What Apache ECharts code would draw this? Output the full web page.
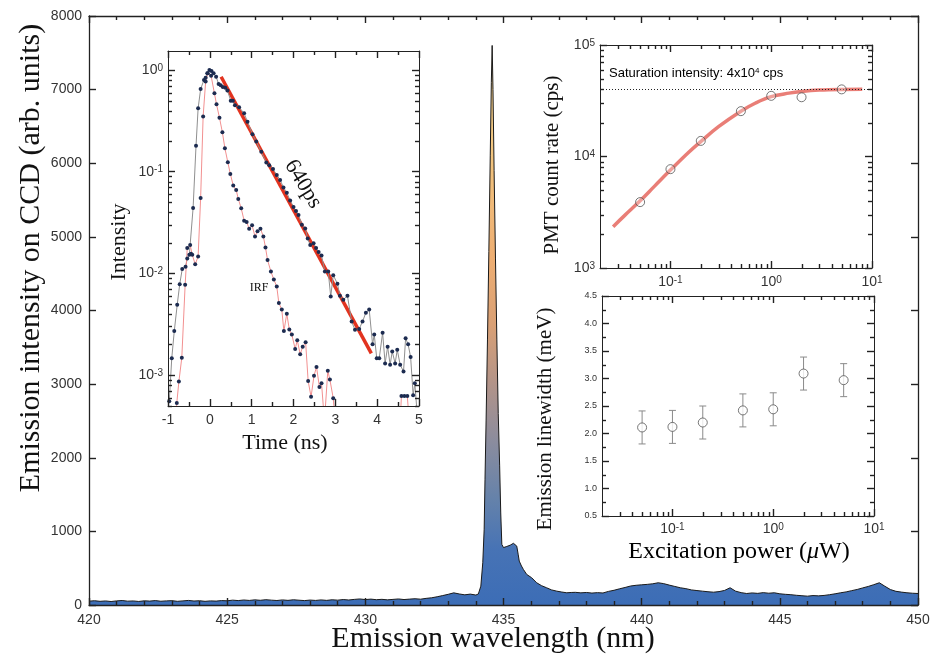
<!DOCTYPE html>
<html><head><meta charset="utf-8">
<script src="https://cdn.jsdelivr.net/npm/echarts@6/dist/echarts.min.js"></script>
<style>html,body{margin:0;padding:0;background:#fff}#chart{width:933px;height:662px}</style>
</head><body><div id="chart"></div>
<script>
// ================= DATA =================
// Main spectrum (nm, arb. units)
const wavelengthNm = [
  420.0,420.2,420.4,420.6,420.8,421.0,421.2,421.4,421.6,421.8,
  422.0,422.2,422.4,422.6,422.8,423.0,423.2,423.4,423.6,423.8,
  424.0,424.2,424.4,424.6,424.8,425.0,425.2,425.4,425.6,425.8,
  426.0,426.2,426.4,426.6,426.8,427.0,427.2,427.4,427.6,427.8,
  428.0,428.2,428.4,428.6,428.8,429.0,429.2,429.4,429.6,429.8,
  430.0,430.2,430.4,430.6,430.8,431.0,431.2,431.4,431.6,431.8,
  432.0,432.2,432.4,432.6,432.8,433.0,433.2,433.4,433.6,433.8,
  434.00,434.09,434.18,434.25,434.30,434.33,434.37,434.42,434.47,434.52,
  434.56,434.59,434.62,434.66,434.71,434.76,434.81,434.86,434.90,434.94,
  435.00,435.06,435.12,435.18,435.24,435.30,435.36,435.42,435.48,435.53,
  435.57,435.65,435.72,435.84,436.02,436.20,436.38,436.56,436.74,436.93,
  437.11,437.29,437.45,
  437.6,437.8,438.0,438.2,438.4,438.6,438.8,439.0,439.2,439.4,
  439.6,439.8,440.0,440.2,440.4,440.6,440.8,441.0,441.2,441.4,
  441.6,441.8,442.0,442.2,442.4,442.6,442.8,443.0,443.2,443.4,
  443.6,443.8,444.0,444.2,444.4,444.6,444.8,445.0,445.2,445.4,
  445.6,445.8,446.0,446.2,446.4,446.6,446.8,447.0,447.2,447.4,
  447.6,447.8,448.0,448.2,448.4,448.6,448.8,449.0,449.2,449.4,
  449.6,449.8,450.0
];
const ccdIntensity = [
  52,58,50,55,47,56,61,52,55,48,
  57,53,60,51,56,59,50,56,62,54,
  58,50,56,53,60,57,66,60,68,62,
  70,64,72,66,61,69,63,71,65,60,
  67,62,69,63,71,66,74,68,76,82,
  74,80,72,77,70,76,82,74,80,85,
  79,90,98,112,128,145,165,150,138,148,
  135,150,256,574,1030,1700,2500,3600,4800,6100,
  7100,7600,7000,5900,4700,3600,2600,1900,1250,823,
  780,778,795,800,812,825,838,846,800,690,
  596,530,483,415,370,302,262,234,205,188,
  176,166,170,
  172,165,170,162,168,163,185,200,220,238,
  258,268,274,280,288,302,290,270,252,234,
  222,205,196,188,180,174,182,198,234,188,
  168,156,164,158,168,160,166,152,145,140,
  132,126,120,128,124,130,140,152,166,178,
  195,211,232,252,276,302,255,210,186,175,
  166,160,156
];

// Inset 1: time-resolved PL (ns, normalised)
const decayTimeNs = [
  -0.97,-0.91,-0.85,-0.78,-0.72,-0.66,-0.58,-0.54,-0.49,-0.45,
  -0.40,-0.33,-0.28,-0.22,-0.14,-0.10,-0.06,-0.01,0.04,0.09,
  0.15,0.21,0.26,0.31,0.37,0.42,0.50,0.55,0.60,0.70,
  0.82,0.90,1.02,1.11,1.23,1.35,1.42,1.51,1.60,1.68,
  1.76,1.84,1.92,2.00,2.06,2.12,2.20,2.28,2.34,2.40,
  2.48,2.54,2.60,2.67,2.75,2.83,2.89,2.95,3.05,3.11,
  3.19,3.29,3.39,3.47,3.57,3.65,3.73,3.81,3.89,3.93,
  3.99,4.05,4.13,4.19,4.25,4.31,4.36,4.43,4.48,4.55,
  4.63,4.68,4.74,4.80,4.86,4.90,4.96
];
const decayIntensity = [
  0.00055,0.00146,0.0027,0.0049,0.0078,0.011,0.0116,0.014,0.0152,0.0156,
  0.044,0.18,0.42,0.65,0.80,0.84,0.93,1.0,0.98,0.93,
  0.86,0.73,0.71,0.68,0.67,0.63,0.50,0.50,0.45,0.43,
  0.375,0.31,0.233,0.198,0.157,0.123,0.116,0.106,0.093,0.083,
  0.070,0.062,0.052,0.045,0.041,0.0375,0.030,0.0276,0.022,0.019,
  0.0198,0.0177,0.0162,0.015,0.0104,0.0104,0.0059,0.0096,0.0079,0.0060,
  0.0055,0.0060,0.00335,0.00278,0.00284,0.00335,0.0041,0.0044,0.0020,0.0025,
  0.00146,0.00146,0.0026,0.0013,0.0019,0.00126,0.0017,0.0013,0.00177,0.00126,
  0.00108,0.0023,0.0020,0.0015,0.00063,0.00083,0.0004
];
const irfTimeNs = [
  -0.85,-0.79,-0.74,-0.67,-0.59,-0.54,-0.47,-0.42,-0.35,-0.28,
  -0.22,-0.16,-0.10,-0.05,0.03,0.11,0.16,0.23,0.30,0.36,
  0.43,0.49,0.56,0.63,0.68,0.75,0.82,0.88,0.94,1.01,
  1.08,1.14,1.21,1.28,1.33,1.38,1.46,1.53,1.60,1.65,
  1.72,1.77,1.84,1.90,1.96,2.04,2.09,2.16,2.22,2.29,
  2.35,2.42,2.49,2.55,2.62,2.67,2.74,2.82,2.87,2.95,
  3.01,4.52,4.58,4.65,4.72,4.78
];
const irfIntensity = [
  0.0002,0.00053,0.00086,0.00148,0.0077,0.0177,0.019,0.0152,0.0123,0.0146,
  0.055,0.35,0.77,0.93,0.88,0.59,0.46,0.34,0.244,0.17,
  0.124,0.095,0.073,0.066,0.054,0.0436,0.033,0.032,0.0275,0.0297,
  0.023,0.026,0.0275,0.023,0.018,0.0135,0.0104,0.0087,0.0074,0.0051,
  0.0044,0.0027,0.0040,0.0028,0.0025,0.0018,0.0022,0.0016,0.0019,0.0021,
  0.00087,0.00061,0.00098,0.0012,0.00076,0.00083,0.00035,0.0011,0.0009,0.00059,
  0.0003,0.0002,0.00062,0.00062,0.00062,0.0003
];
const fitTimeNs = [0.27, 3.86];
const fitIntensity = [0.86, 0.00163];

// Inset 2: PMT count rate vs excitation power
const pmtPowerUW = [0.05, 0.1, 0.2, 0.5, 1, 2, 5];
const pmtCountRate = [3900, 7700, 13800, 25500, 35000, 34000, 40000];
const satFitPowerUW = [0.027, 0.035, 0.05, 0.07, 0.1, 0.15, 0.2, 0.3, 0.5, 0.7, 1, 1.5, 2, 3, 5, 8];
const satFitCountRate = [2350, 2950, 4000, 5450, 7550, 10800, 13600, 18500, 25500, 30200, 34400, 37000, 38300, 39400, 39900, 40000];
const saturationCps = 40000;

// Inset 3: emission linewidth vs excitation power
const linewidthPowerUW = [0.05, 0.1, 0.2, 0.5, 1, 2, 5];
const linewidthMeV = [2.11, 2.12, 2.20, 2.42, 2.44, 3.09, 2.97];
const linewidthErrMeV = [0.3, 0.3, 0.3, 0.3, 0.3, 0.3, 0.3];

// ================= STYLE / HELPERS =================
const AX = '#222', INK = '#333';
const SANS = '"Liberation Sans", Arial, Helvetica, sans-serif';
const SERIF = '"Liberation Serif", "Times New Roman", Times, serif';
const MAJ = 7, MIN = 4, TW = 1.4;

function zip(a, b) { return a.map((v, i) => [v, b[i]]); }
function supLabel(v) {
  const l = Math.log10(v), e = Math.round(l);
  if (Math.abs(l - e) > 1e-6) return '';
  return '{b|10}{s|' + e + '}';
}
function richSup(size) {
  return {
    b: { fontSize: size, fontFamily: SANS, color: INK },
    s: { fontSize: Math.round(size * 0.68), fontFamily: SANS, color: INK, verticalAlign: 'top' }
  };
}
function logMinors(e0, e1, lo, hi) {
  const r = [];
  for (let e = e0; e <= e1; e++) for (let m = 2; m <= 9; m++) {
    const v = +(m * Math.pow(10, e)).toPrecision(3);
    if (v > lo * 1.001 && v < hi * 0.999) r.push(v);
  }
  return r;
}
const xAxes = [], yAxes = [];
function axisBase(gi, pos, type, min, max) {
  const a = { type, gridIndex: gi, position: pos, min, max, z: 10,
    axisLine: { show: true, onZero: false, lineStyle: { color: AX, width: 1 } },
    axisTick: { show: false }, axisLabel: { show: false }, splitLine: { show: false },
    minorTick: { show: false }, minorSplitLine: { show: false } };
  if (type === 'log') a.logBase = 10;
  return a;
}
function linearSet(list, gi, sides, min, max, interval, minorSplit, label, lw) {
  let first;
  sides.forEach((pos, i) => {
    const a = axisBase(gi, pos, 'value', min, max);
    a.interval = interval;
    a.axisLine.lineStyle.width = lw || 1;
    a.axisTick = { show: true, inside: true, length: MAJ, lineStyle: { color: AX, width: TW } };
    if (minorSplit) a.minorTick = { show: true, splitNumber: minorSplit, length: MIN, lineStyle: { color: AX, width: TW } };
    if (i === 0 && label) a.axisLabel = Object.assign({ show: true, inside: false, hideOverlap: false }, label);
    list.push(a); if (i === 0) first = list.length - 1;
  });
  return first;
}
// log axes: box lines, major ticks and labels; minor (2..9) ticks drawn by tickSeries through the axis scale
function logSet(list, gi, sides, min, max, majors, label) {
  let first;
  sides.forEach((pos, i) => {
    const a = axisBase(gi, pos, 'log', min, max);
    a.axisTick = { show: true, inside: true, length: MAJ, customValues: majors, lineStyle: { color: AX, width: TW } };
    if (i === 0 && label) a.axisLabel = Object.assign({ show: true, inside: false, hideOverlap: false, customValues: majors, formatter: supLabel }, label);
    list.push(a); if (i === 0) first = list.length - 1;
  });
  return first;
}
function tickSeries(xIdx, yIdx, dim, minors, ref) {
  const data = minors.map(v => dim === 'y' ? [ref, v, MIN] : [v, ref, MIN]);
  return { type: 'custom', xAxisIndex: xIdx, yAxisIndex: yIdx, data, silent: true, clip: false, z: 20,
    encode: { x: 0, y: 1 },
    renderItem: function (params, api) {
      const cs = params.coordSys;
      const p = api.coord([api.value(0), api.value(1)]);
      const len = api.value(2);
      const st = { stroke: AX, lineWidth: TW };
      if (dim === 'y') {
        const y = Math.round(p[1]) + 0.5;
        return { type: 'group', children: [
          { type: 'line', shape: { x1: cs.x, y1: y, x2: cs.x + len, y2: y }, style: st },
          { type: 'line', shape: { x1: cs.x + cs.width - len, y1: y, x2: cs.x + cs.width, y2: y }, style: st } ] };
      }
      const x = Math.round(p[0]) + 0.5;
      return { type: 'group', children: [
        { type: 'line', shape: { x1: x, y1: cs.y + cs.height, x2: x, y2: cs.y + cs.height - len }, style: st },
        { type: 'line', shape: { x1: x, y1: cs.y, x2: x, y2: cs.y + len }, style: st } ] };
    } };
}
const plainNum = v => String(v);

// ---- grid 0: main spectrum
const mX = linearSet(xAxes, 0, ['bottom', 'top'], 420, 450, 5, 5,
  { fontSize: 14, fontFamily: SANS, color: INK, margin: 8, formatter: plainNum }, 1.3);
const mY = linearSet(yAxes, 0, ['left', 'right'], 0, 8000, 1000, 0,
  { fontSize: 14, fontFamily: SANS, color: INK, margin: 7, formatter: plainNum }, 1.3);
// ---- grid 1: decay
const dX = linearSet(xAxes, 1, ['bottom', 'top'], -1, 5, 1, 2,
  { fontSize: 14, fontFamily: SANS, color: INK, margin: 7, formatter: plainNum });
const dYmin = 0.000495, dYmax = 1.54;
const dYmajors = [0.001, 0.01, 0.1, 1];
const dY = logSet(yAxes, 1, ['left', 'right'], dYmin, dYmax, dYmajors, { color: INK, margin: 5, rich: richSup(14) });
// ---- grid 2: PMT count rate
const pXmin = 0.02, pXmax = 10;
const pXmajors = [0.1, 1, 10];
const pX = logSet(xAxes, 2, ['bottom', 'top'], pXmin, pXmax, pXmajors, { color: INK, margin: 7, rich: richSup(14) });
const pYmajors = [1000, 10000, 100000];
const pY = logSet(yAxes, 2, ['left', 'right'], 1000, 100000, pYmajors, { color: INK, margin: 5, rich: richSup(14) });
// ---- grid 3: linewidth
const lX = logSet(xAxes, 3, ['bottom', 'top'], pXmin, pXmax, pXmajors, { color: INK, margin: 6, rich: richSup(14) });
const lY = linearSet(yAxes, 3, ['left', 'right'], 0.5, 4.5, 0.5, 2,
  { fontSize: 9, fontFamily: SANS, color: INK, margin: 5, formatter: v => v.toFixed(1) });

const errData = linewidthPowerUW.map((p, i) => [p, linewidthMeV[i] - linewidthErrMeV[i], linewidthMeV[i] + linewidthErrMeV[i]]);

function gText(text, x, y, font, extra) {
  return Object.assign({ type: 'text', x, y, silent: true, z: 100,
    style: { text, font, fill: '#111', textAlign: 'center', textVerticalAlign: 'middle', align: 'center', verticalAlign: 'middle' } }, extra || {});
}

const option = {
  animation: false,
  backgroundColor: '#fff',
  grid: [
    { left: 89, top: 16, width: 829, height: 589, containLabel: false, outerBoundsMode: 'none' },
    { left: 168, top: 51, width: 251, height: 355, containLabel: false, outerBoundsMode: 'none' },
    { left: 600, top: 45, width: 272, height: 223, containLabel: false, outerBoundsMode: 'none' },
    { left: 602, top: 296, width: 272, height: 220, containLabel: false, outerBoundsMode: 'none' }
  ],
  xAxis: xAxes,
  yAxis: yAxes,
  series: [
    { type: 'line', xAxisIndex: mX, yAxisIndex: mY, data: zip(wavelengthNm, ccdIntensity),
      showSymbol: false, symbol: 'none', sampling: 'none', silent: true, z: 2,
      lineStyle: { color: '#1a1a1a', width: 1 },
      areaStyle: { opacity: 1, color: new echarts.graphic.LinearGradient(0, 0, 0, 1, [
        { offset: 0, color: '#f4d490' },
        { offset: 0.2, color: '#f2c47e' },
        { offset: 0.38, color: '#eeae72' },
        { offset: 0.5, color: '#d9a075' },
        { offset: 0.6, color: '#b49488' },
        { offset: 0.71, color: '#8a8c9e' },
        { offset: 0.81, color: '#6582aa' },
        { offset: 0.9, color: '#4773b5' },
        { offset: 1, color: '#3c6db6' }
      ]) } },
    { type: 'line', xAxisIndex: dX, yAxisIndex: dY, data: zip(fitTimeNs, fitIntensity),
      showSymbol: false, symbol: 'none', silent: true, z: 3,
      lineStyle: { color: '#e2331f', width: 3.5 } },
    { type: 'line', xAxisIndex: dX, yAxisIndex: dY, data: zip(decayTimeNs, decayIntensity),
      symbol: 'circle', symbolSize: 4, showSymbol: true, silent: true, z: 4,
      lineStyle: { color: '#8f8f8f', width: 1 }, itemStyle: { color: '#1c2b50' } },
    { type: 'line', xAxisIndex: dX, yAxisIndex: dY, data: zip(irfTimeNs, irfIntensity),
      symbol: 'circle', symbolSize: 4, showSymbol: true, silent: true, z: 4,
      lineStyle: { color: '#f29090', width: 1 }, itemStyle: { color: '#1c2b50' } },
    tickSeries(dX, dY, 'y', logMinors(-4, 0, dYmin, dYmax), 0),
    { type: 'line', xAxisIndex: pX, yAxisIndex: pY, data: zip(satFitPowerUW, satFitCountRate),
      showSymbol: false, symbol: 'none', smooth: 0.4, silent: true, z: 3,
      lineStyle: { color: '#e5675f', width: 3.5, opacity: 0.85 },
      markLine: { silent: true, symbol: ['none', 'none'], label: { show: false },
        lineStyle: { color: '#222', type: [1, 2], width: 1 }, data: [{ yAxis: saturationCps }] } },
    { type: 'scatter', xAxisIndex: pX, yAxisIndex: pY, data: zip(pmtPowerUW, pmtCountRate),
      symbol: 'circle', symbolSize: 9, silent: true, z: 5,
      itemStyle: { color: 'rgba(255,255,255,0.35)', borderColor: '#555', borderWidth: 1 } },
    tickSeries(pX, pY, 'x', logMinors(-2, 0, pXmin, pXmax), 10000),
    tickSeries(pX, pY, 'y', logMinors(3, 4, 1000, 100000), 1),
    { type: 'custom', xAxisIndex: lX, yAxisIndex: lY, data: errData, silent: true, z: 3,
      encode: { x: 0, y: [1, 2] },
      renderItem: function (params, api) {
        const x = api.value(0), lo = api.value(1), hi = api.value(2);
        const a = api.coord([x, lo]), b = api.coord([x, hi]);
        const w = 3.5, st = { stroke: '#8a8a8a', lineWidth: 1 };
        return { type: 'group', children: [
          { type: 'line', shape: { x1: a[0], y1: a[1], x2: b[0], y2: b[1] }, style: st },
          { type: 'line', shape: { x1: a[0] - w, y1: a[1], x2: a[0] + w, y2: a[1] }, style: st },
          { type: 'line', shape: { x1: b[0] - w, y1: b[1], x2: b[0] + w, y2: b[1] }, style: st }
        ] };
      } },
    { type: 'scatter', xAxisIndex: lX, yAxisIndex: lY, data: zip(linewidthPowerUW, linewidthMeV),
      symbol: 'circle', symbolSize: 9, silent: true, z: 5,
      itemStyle: { color: '#fff', borderColor: '#555', borderWidth: 1 } },
    tickSeries(lX, lY, 'x', logMinors(-2, 0, pXmin, pXmax), 2)
  ],
  graphic: [
    gText('Emission intensity on CCD (arb. units)', 31, 258, '30px ' + SERIF, { rotation: Math.PI / 2 }),
    gText('Emission wavelength (nm)', 493, 639, '30px ' + SERIF),
    gText('Intensity', 119, 242, '22px ' + SERIF, { rotation: Math.PI / 2 }),
    gText('Time (ns)', 285, 443, '22px ' + SERIF),
    gText('640ps', 303, 184, '22px ' + SERIF, { rotation: -1.03 }),
    gText('IRF', 259, 288, '12px ' + SERIF),
    gText('PMT count rate (cps)', 552, 165, '21px ' + SERIF, { rotation: Math.PI / 2 }),
    { type: 'text', x: 609, y: 73, silent: true, z: 100,
      style: { text: '{n|Saturation intensity: 4x10}{s|4}{n| cps}', textAlign: 'left', align: 'left', textVerticalAlign: 'middle', verticalAlign: 'middle',
        rich: { n: { fontSize: 13, fontFamily: SANS, color: '#222' }, s: { fontSize: 8, fontFamily: SANS, color: '#222', verticalAlign: 'top' } } } },
    gText('Emission linewidth (meV)', 545, 419, '21px ' + SERIF, { rotation: Math.PI / 2 }),
    { type: 'text', x: 739, y: 552, silent: true, z: 100,
      style: { text: '{n|Excitation power (}{i|\u03bc}{n|W)}', textAlign: 'center', align: 'center', textVerticalAlign: 'middle', verticalAlign: 'middle',
        rich: { n: { fontSize: 24, fontFamily: SERIF, color: '#111' }, i: { fontSize: 24, fontFamily: SERIF, fontStyle: 'italic', color: '#111' } } } }
  ]
};

const chart = echarts.init(document.getElementById('chart'), null, { renderer: 'canvas', width: 933, height: 662 });
chart.setOption(option);
</script>
</body></html>
